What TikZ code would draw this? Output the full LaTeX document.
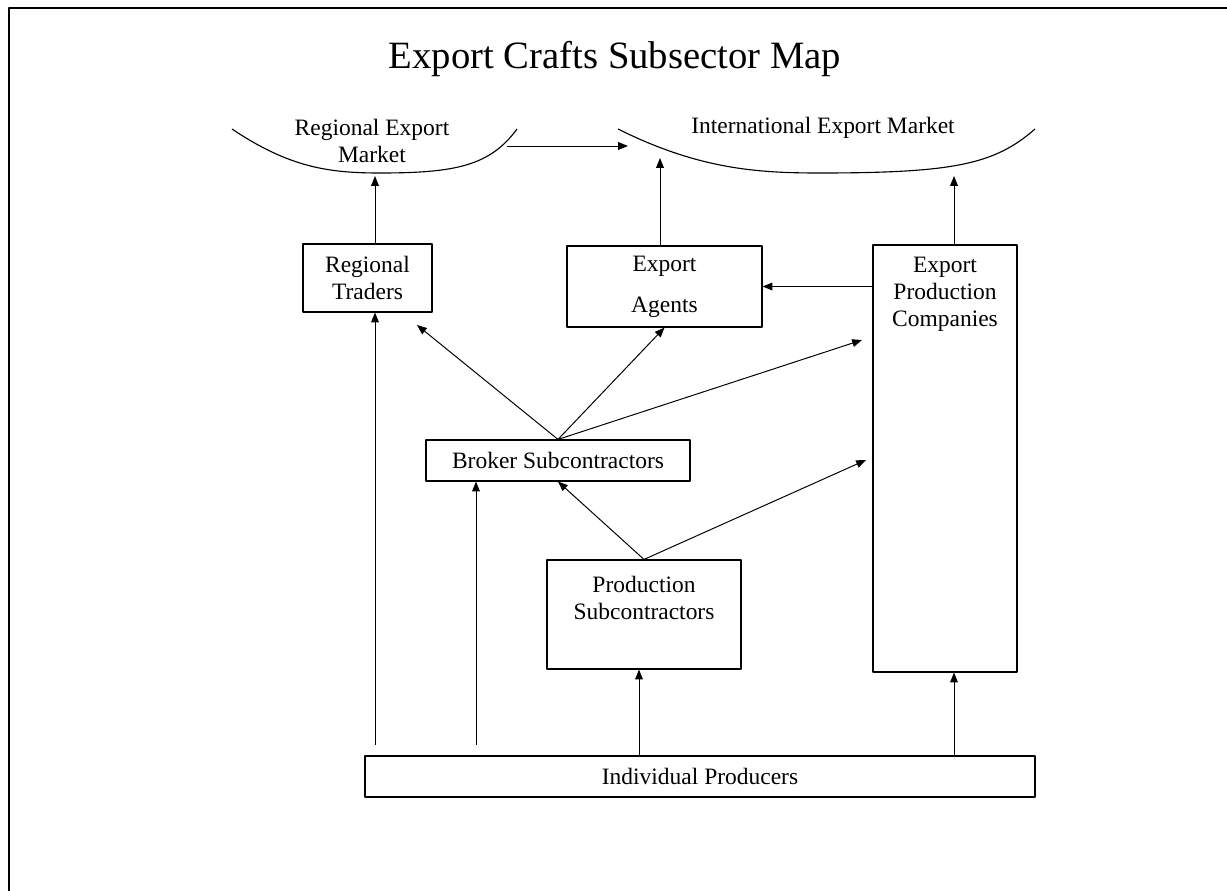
\documentclass[tikz,border=0pt]{standalone}
\usepackage{fontspec}
\setmainfont{Liberation Serif}
\usetikzlibrary{arrows.meta}

\begin{document}
\begin{tikzpicture}[x=0.025cm, y=-0.025cm, font=\fontsize{16.7}{19.2}\selectfont, line join=round, >={Triangle[length=7pt,width=5.5pt]},
	box/.style={draw, line width=0.8pt, inner sep=0pt, align=center},
	lbl/.style={inner sep=0pt, align=center},
	link/.style={->, line width=0.7pt}]
	\def \px{0.025cm};
	\useasboundingbox (0,0) rectangle (1227,891);
	\draw[line width=2pt] (9,891) -- (9,8) -- (1227,8);
	\node[lbl] (title) at (615,59) {\fontsize{27.5}{32}\selectfont Export Crafts Subsector Map};
	% markets
	\draw[line width=0.8pt] (232,129) .. controls (290,168) and (330,173) .. (380,173) .. controls (455,173) and (490,166) .. (517,129);
	\draw[line width=0.8pt] (618,129) .. controls (700,170) and (760,173) .. (820,173) .. controls (955,173) and (995,164) .. (1035,129);
	\node[lbl] (regional) at (372,141) {Regional Export\\Market};
	\node[lbl] (intl) at (823,128) {International Export Market};
	% boxes
	\node[box, minimum width=129*\px, minimum height=68*\px] (traders) at (367.5,278) {Regional\\Traders};
	\node[box, minimum width=195*\px, minimum height=81*\px] (agents) at (664.5,286.5) {Export\\[10pt]Agents};
	\node[box, minimum width=144*\px, minimum height=427*\px] (epc) at (945,458.5) {};
	\node[lbl] (epclabel) at (945,294) {Export\\Production\\Companies};
	\node[box, minimum width=264*\px, minimum height=41*\px] (broker) at (558,460.5) {Broker Subcontractors};
	\node[box, minimum width=194*\px, minimum height=109*\px] (prod) at (644,614.5) {};
	\node[lbl] (prodlabel) at (644,597.5) {Production\\Subcontractors};
	\node[box, minimum width=670*\px, minimum height=41*\px] (indiv) at (700,776.5) {Individual Producers};
	% arrow ends
	\coordinate (regE) at (507,146);
	\coordinate (intW) at (628,146);
	\coordinate (regS) at (375,176);
	\coordinate (intA) at (660,158);
	\coordinate (intE) at (954,176);
	\coordinate (trSE) at (417,325);
	\coordinate (epcA) at (862,340);
	\coordinate (epcB) at (866,460);
	\coordinate (up1) at (375,745);
	\coordinate (up2) at (476,745);
	\coordinate (up3) at (639,756);
	\coordinate (up4) at (954,756);
	% connectors
	\draw[link] (regE) -- (intW);
	\draw[link] (traders.north -| regS) -- (regS);
	\draw[link] (agents.north -| intA) -- (intA);
	\draw[link] (epc.north -| intE) -- (intE);
	\draw[link] (epc.west |- agents.east) -- (agents.east);
	\draw[link] (broker.north) -- (trSE);
	\draw[link] (broker.north) -- (agents.south);
	\draw[link] (broker.north) -- (epcA);
	\draw[link] (prod.north) -- (broker.south);
	\draw[link] (prod.north) -- (epcB);
	\draw[link] (up1) -- (traders.south -| up1);
	\draw[link] (up2) -- (broker.south -| up2);
	\draw[link] (up3) -- (prod.south -| up3);
	\draw[link] (up4) -- (epc.south -| up4);
\end{tikzpicture}
\end{document}
